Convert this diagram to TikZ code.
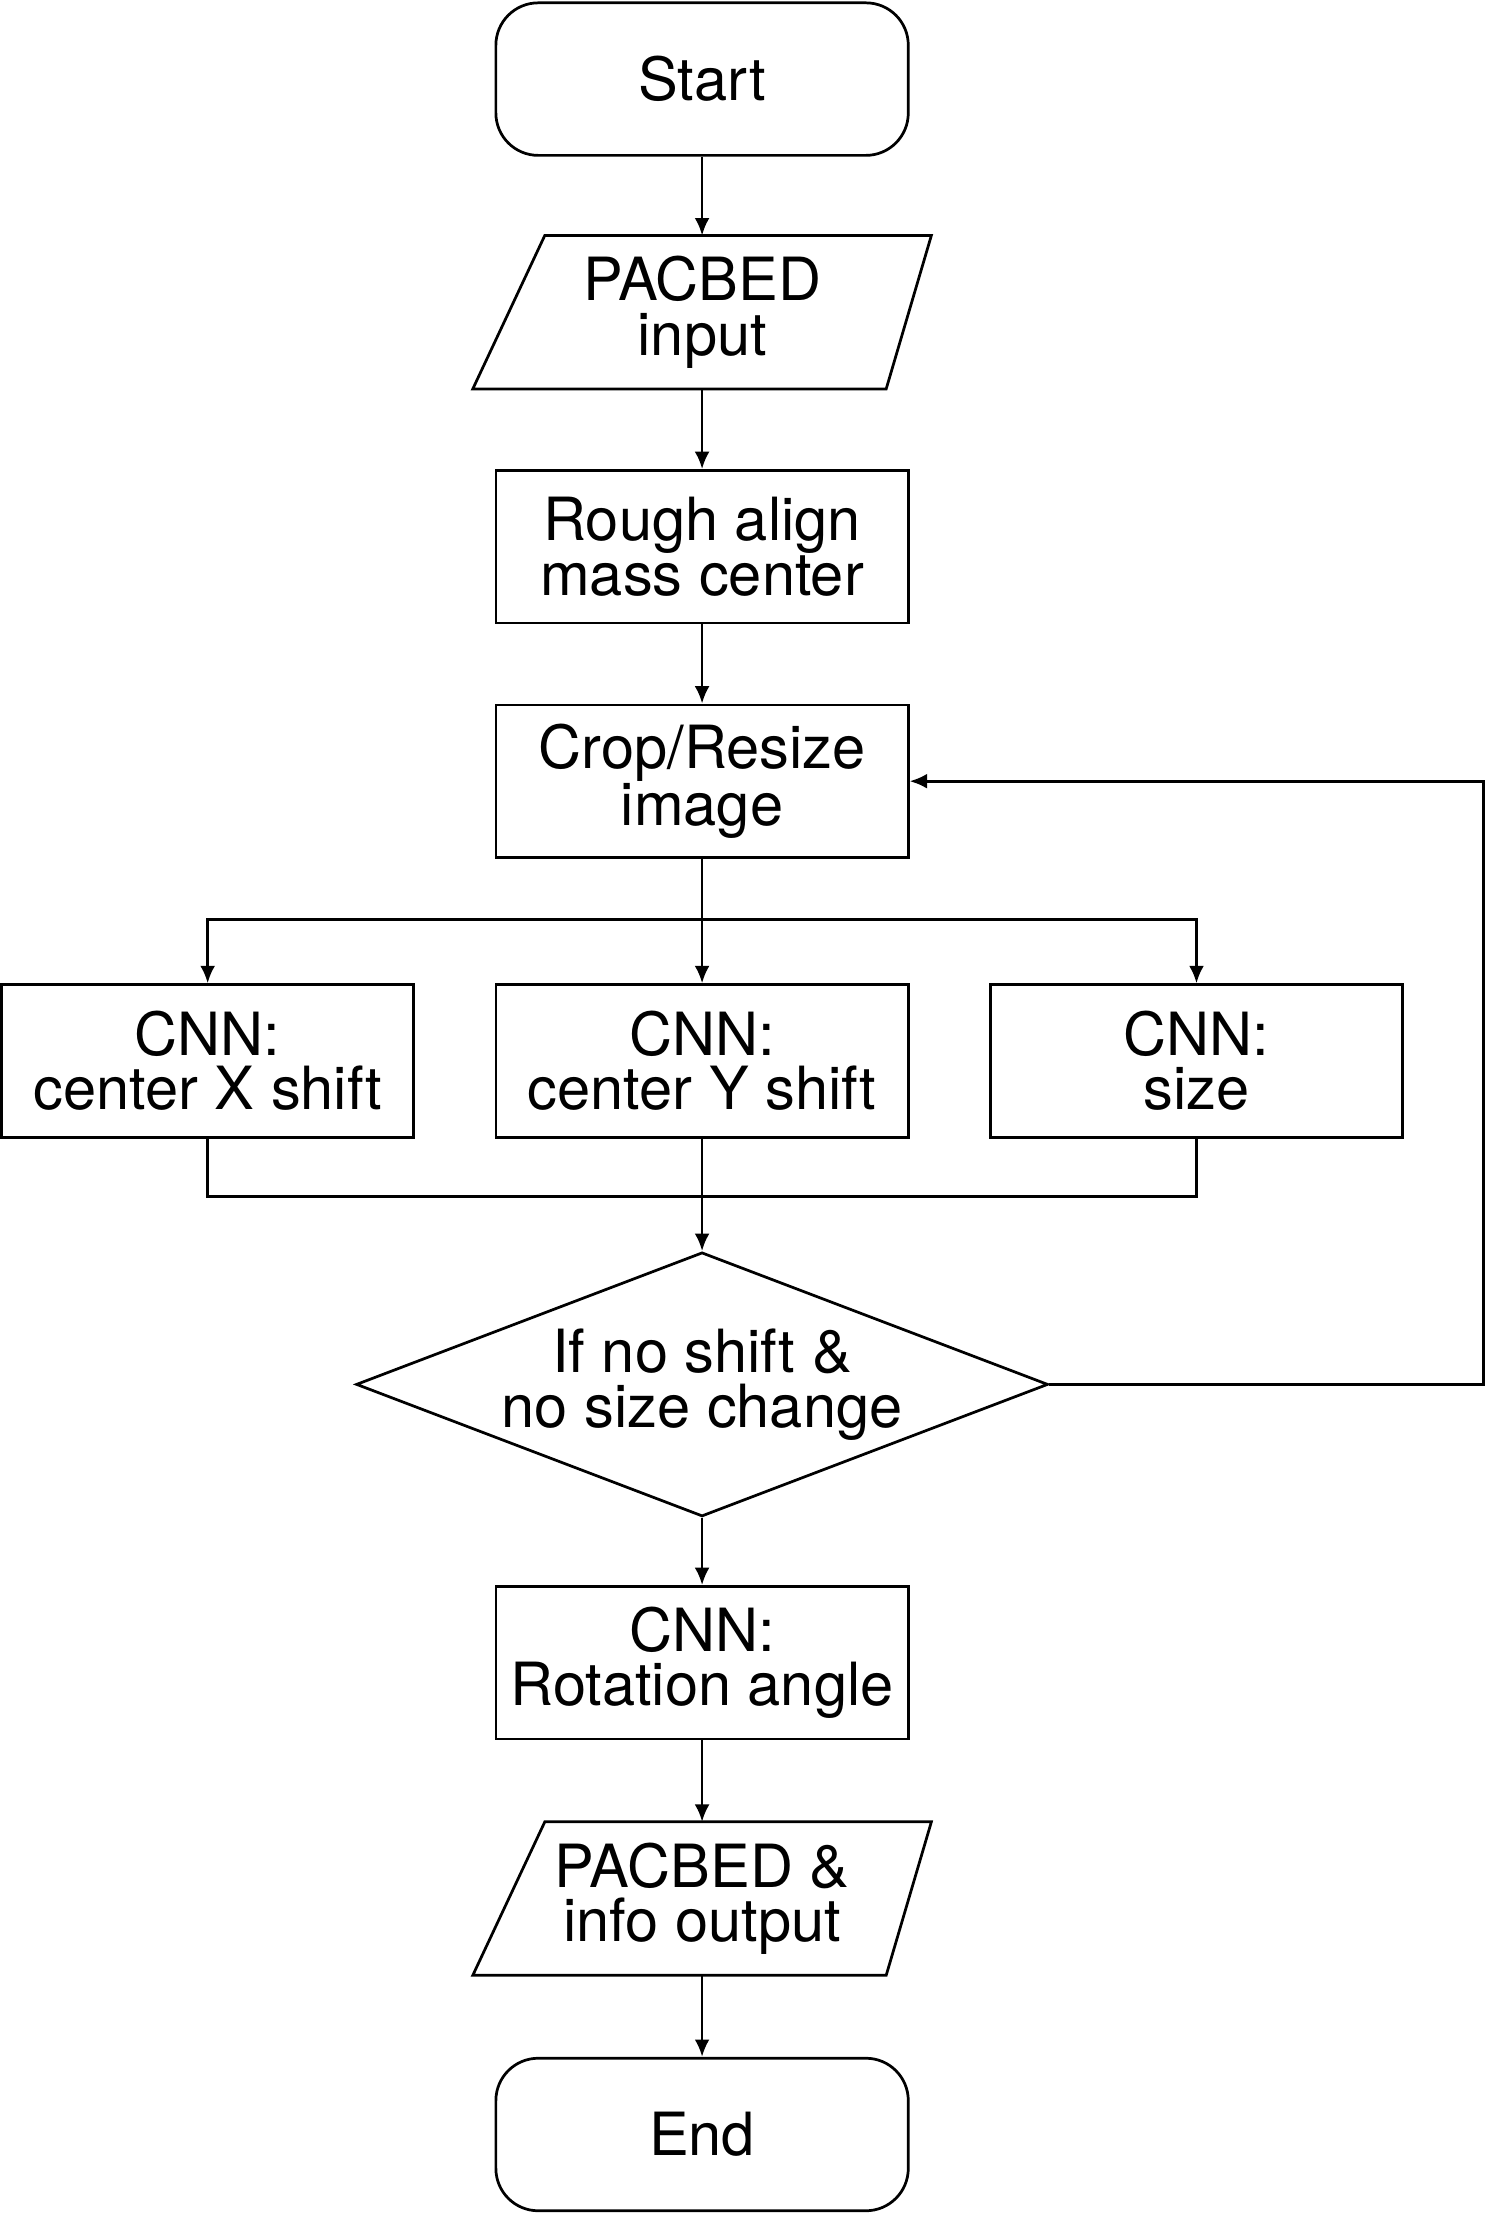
\documentclass[tikz,border=0pt]{standalone}
\usepackage{fontspec}
\setmainfont{TeX Gyre Heros}
\usetikzlibrary{shapes.geometric,arrows.meta,positioning}
\tikzset{
  box/.style={draw,line width=1.1pt,minimum width=5.84cm,minimum height=2.16cm,align=center,inner sep=0pt},
  term/.style={box,rounded corners=0.6cm},
  io/.style={minimum width=5.84cm,minimum height=2.16cm,align=center,inner sep=0pt},
  dec/.style={draw,line width=1.1pt,diamond,aspect=2.62,minimum width=8.72cm,minimum height=3.32cm,align=center,inner sep=0pt},
  flow/.style={line width=1.1pt,-{Latex[length=7pt,width=6pt]}},
  line/.style={line width=1.1pt}
}
\newcommand{\slant}[1]{%
\draw[line width=1.1pt] ([xshift=0.7cm]#1.north west) -- ([xshift=0.32cm]#1.north east)
  -- ([xshift=-0.32cm]#1.south east) -- ([xshift=-0.32cm]#1.south west) -- cycle;}
\begin{document}
\begin{tikzpicture}[x=0.02cm,y=-0.02cm,font=\fontsize{24}{22}\selectfont]
\useasboundingbox (0,0) rectangle (1052,1568);
\node[term] (start) at (497,56) {Start};
\node[io] (in) at (497,221) {PACBED\\input};
\node[box] (rough) at (497,387) {Rough align\\mass center};
\node[box] (crop) at (497,553) {Crop/Resize\\image};
\node[box] (cx) at (147,751) {CNN:\\center X shift};
\node[box] (cy) at (497,751) {CNN:\\center Y shift};
\node[box] (cs) at (847,751) {CNN:\\size};
\node[dec] (test) at (497,980) {If no shift \&\\no size change};
\node[box] (rot) at (497,1177) {CNN:\\Rotation angle};
\node[io] (out) at (497,1344) {PACBED \&\\info output};
\node[term] (end) at (497,1511) {End};
\slant{in}
\slant{out}

\coordinate (split) at (497,651);
\coordinate (merge) at (497,847);
\coordinate (loop) at (1050,980);

\draw[flow] (start) -- (in);
\draw[flow] (in) -- (rough);
\draw[flow] (rough) -- (crop);
\draw[line] (crop) -- (split);
\draw[flow] (split) -| (cx);
\draw[flow] (split) -- (cy);
\draw[flow] (split) -| (cs);
\draw[line] (cx) |- (merge);
\draw[line] (cs) |- (merge);
\draw[flow] (cy) -- (test);
\draw[flow] (test.east) -- (loop) |- (crop.east);
\draw[flow] (test) -- (rot);
\draw[flow] (rot) -- (out);
\draw[flow] (out) -- (end);
\end{tikzpicture}
\end{document}
